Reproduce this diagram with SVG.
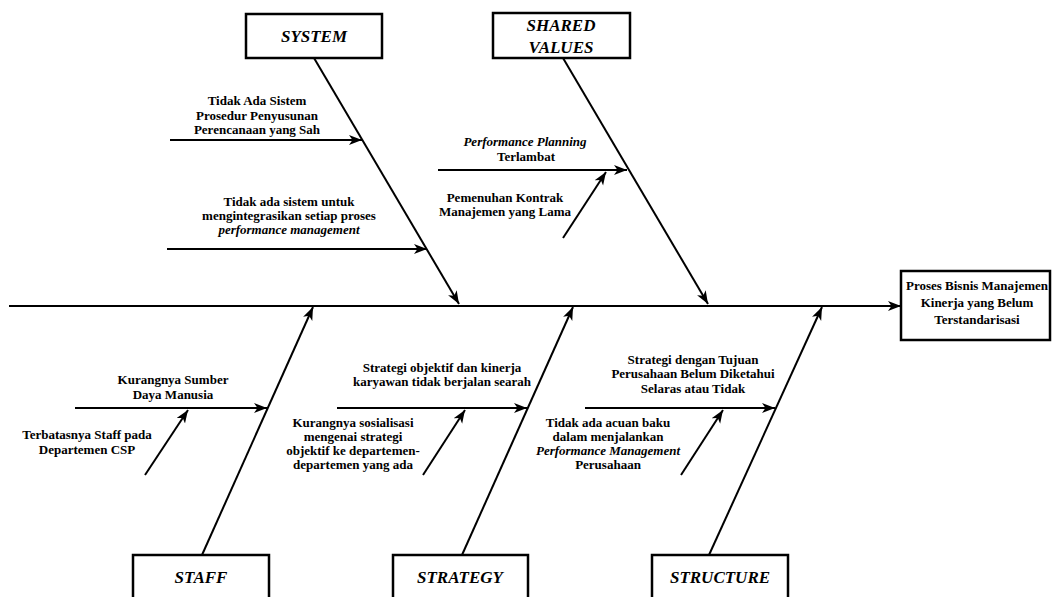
<svg xmlns="http://www.w3.org/2000/svg" width="1053" height="597" viewBox="0 0 1053 597">
<style>
.t{font-family:'Liberation Serif','DejaVu Serif',serif;font-weight:700;font-size:13px;fill:#000;text-anchor:middle}
.i{font-style:italic}
.h{font-family:'Liberation Serif','DejaVu Serif',serif;font-weight:700;font-style:italic;font-size:17px;fill:#000;text-anchor:middle}
.box{fill:#fff;stroke:#000;stroke-width:2.5}
.ar{stroke:#000;stroke-width:2;fill:none;marker-end:url(#ah)}
</style>
<defs>
<marker id="ah" markerUnits="userSpaceOnUse" markerWidth="14" markerHeight="12" refX="13" refY="5" orient="auto">
<path d="M0,0 L13,5 L0,10 L3.5,5 Z" fill="#000"/>
</marker>
</defs>
<rect width="1053" height="597" fill="#fff"/>
<g id="connectors">
<line class="ar" x1="9" y1="306" x2="901" y2="306"/>
<line class="ar" x1="314" y1="58" x2="459" y2="304"/>
<line class="ar" x1="563" y1="58" x2="708" y2="304"/>
<line class="ar" x1="202" y1="555" x2="313" y2="307"/>
<line class="ar" x1="462" y1="555" x2="573" y2="307"/>
<line class="ar" x1="709" y1="555" x2="822" y2="307"/>
<line class="ar" x1="170" y1="140" x2="362" y2="140"/>
<line class="ar" x1="167" y1="249" x2="427" y2="249"/>
<line class="ar" x1="438" y1="170" x2="627" y2="170"/>
<line class="ar" x1="563" y1="238" x2="606" y2="172"/>
<line class="ar" x1="75" y1="408" x2="267" y2="408"/>
<line class="ar" x1="145" y1="475" x2="188" y2="410"/>
<line class="ar" x1="337" y1="408" x2="527" y2="408"/>
<line class="ar" x1="423" y1="475" x2="465" y2="410"/>
<line class="ar" x1="585" y1="408" x2="775" y2="408"/>
<line class="ar" x1="681" y1="475" x2="723" y2="410"/>
</g>
<g id="effect">
<rect class="box" x="901" y="271" width="149" height="69"/>
<text class="t" x="977" y="290">Proses Bisnis Manajemen</text>
<text class="t" x="977" y="307">Kinerja yang Belum</text>
<text class="t" x="977" y="324">Terstandarisasi</text>
</g>
<g id="system">
<rect class="box" x="246" y="14" width="136" height="44"/>
<text class="h" x="314" y="42">SYSTEM</text>
</g>
<g id="shared-values">
<rect class="box" x="493" y="13" width="137" height="45"/>
<text class="h" x="561" y="31">SHARED</text>
<text class="h" x="561" y="53">VALUES</text>
</g>
<g id="staff">
<rect class="box" x="133" y="555" width="136" height="50"/>
<text class="h" x="201" y="583">STAFF</text>
</g>
<g id="strategy">
<rect class="box" x="393" y="555" width="135" height="50"/>
<text class="h" x="460" y="583">STRATEGY</text>
</g>
<g id="structure">
<rect class="box" x="652" y="555" width="136" height="50"/>
<text class="h" x="720" y="583">STRUCTURE</text>
</g>
<g id="cause-system-1">
<text class="t" x="257" y="105">Tidak Ada Sistem</text>
<text class="t" x="257" y="120">Prosedur Penyusunan</text>
<text class="t" x="257" y="134">Perencanaan yang Sah</text>
</g>
<g id="cause-system-2">
<text class="t" x="289" y="206">Tidak ada sistem untuk</text>
<text class="t" x="289" y="220">mengintegrasikan setiap proses</text>
<text class="t i" x="289" y="234">performance management</text>
</g>
<g id="cause-sv-1">
<text class="t i" x="525" y="146">Performance Planning</text>
<text class="t" x="526" y="161">Terlambat</text>
</g>
<g id="cause-sv-2">
<text class="t" x="505" y="202">Pemenuhan Kontrak</text>
<text class="t" x="505" y="216">Manajemen yang Lama</text>
</g>
<g id="cause-staff-1">
<text class="t" x="173" y="384">Kurangnya Sumber</text>
<text class="t" x="173" y="399">Daya Manusia</text>
</g>
<g id="cause-staff-2">
<text class="t" x="87" y="439">Terbatasnya Staff pada</text>
<text class="t" x="87" y="454">Departemen CSP</text>
</g>
<g id="cause-strategy-1">
<text class="t" x="442" y="372">Strategi objektif dan kinerja</text>
<text class="t" x="442" y="386">karyawan tidak berjalan searah</text>
</g>
<g id="cause-strategy-2">
<text class="t" x="353" y="427">Kurangnya sosialisasi</text>
<text class="t" x="353" y="441">mengenai strategi</text>
<text class="t" x="353" y="455">objektif ke departemen-</text>
<text class="t" x="353" y="469">departemen yang ada</text>
</g>
<g id="cause-structure-1">
<text class="t" x="693" y="364">Strategi dengan Tujuan</text>
<text class="t" x="693" y="378">Perusahaan Belum Diketahui</text>
<text class="t" x="693" y="393">Selaras atau Tidak</text>
</g>
<g id="cause-structure-2">
<text class="t" x="608" y="427">Tidak ada acuan baku</text>
<text class="t" x="608" y="441">dalam menjalankan</text>
<text class="t i" x="608" y="455">Performance Management</text>
<text class="t" x="608" y="469">Perusahaan</text>
</g>
</svg>
